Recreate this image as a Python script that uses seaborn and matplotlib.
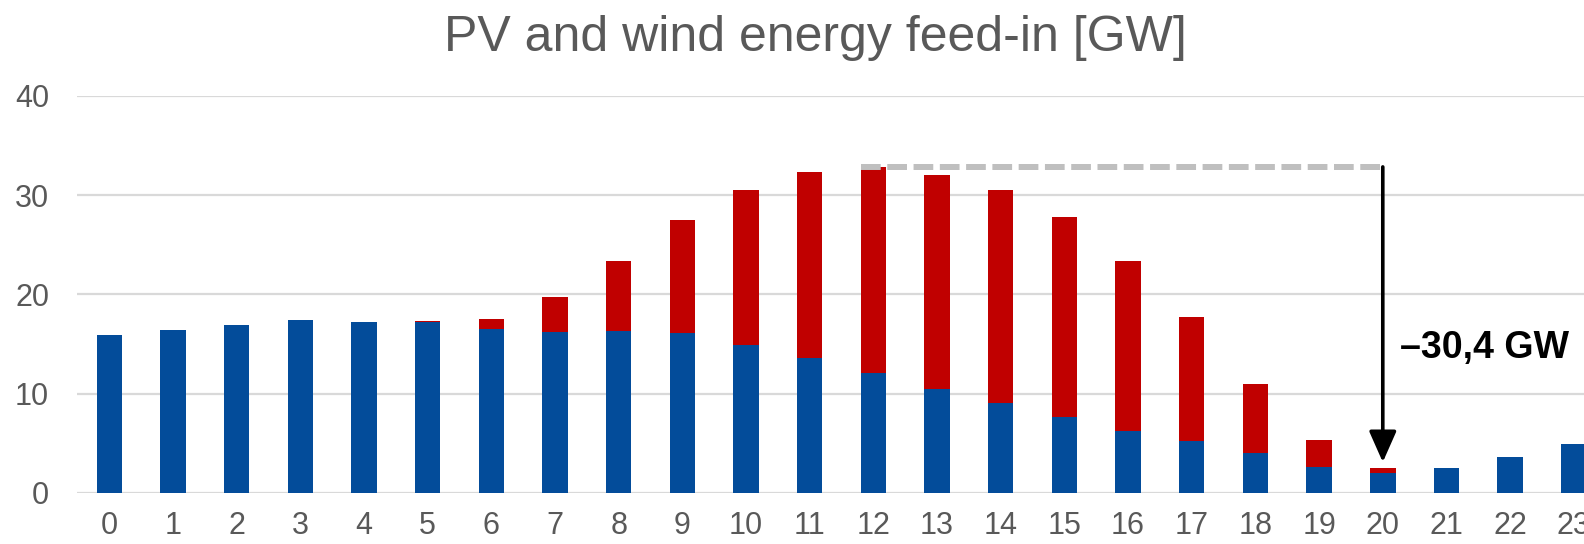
import matplotlib
matplotlib.use("Agg")
import matplotlib.pyplot as plt
import seaborn as sns
import pandas as pd

# Hourly feed-in [GW]
hours = list(range(24))
wind = [15.87, 16.44, 16.90, 17.38, 17.18, 17.24, 16.50, 16.17, 16.27, 16.13,
        14.86, 13.58, 12.03, 10.42, 9.01, 7.60, 6.25, 5.18, 3.97, 2.62,
        1.98, 2.52, 3.56, 4.91]
pv = [0.0, 0.0, 0.0, 0.0, 0.0, 0.07, 0.98, 3.59, 7.09, 11.33,
      15.69, 18.79, 20.82, 21.58, 21.54, 20.20, 17.11, 12.53, 7.02, 2.66,
      0.47, 0.0, 0.0, 0.0]
title = "PV and wind energy feed-in [GW]"
peak_hour = 12
evening_hour = 20

BLUE = "#034C9A"
RED = "#C00000"
GREY_TXT = "#595959"

df = pd.DataFrame({"hour": hours, "wind": wind, "pv": pv})
df["total"] = df["wind"] + df["pv"]

sns.set_theme(style="white")
plt.rcParams["font.family"] = ["Liberation Sans", "DejaVu Sans"]

fig = plt.figure(figsize=(15.84, 5.44), dpi=100)
ax = fig.add_axes([77 / 1584, 51.3 / 544, 1 - 77 / 1584, 396.7 / 544])

# stacked bars: total (PV on top) first, wind drawn over it
sns.barplot(data=df, x="hour", y="total", color=RED, saturation=1,
            width=0.4, errorbar=None, ax=ax, zorder=2, linewidth=0)
sns.barplot(data=df, x="hour", y="wind", color=BLUE, saturation=1,
            width=0.4, errorbar=None, ax=ax, zorder=3, linewidth=0)

ax.set_xlim(-0.507, 23.16)
ax.set_ylim(0, 40)
ax.set_yticks([0, 10, 20, 30, 40])
ax.yaxis.grid(True, color="#D9D9D9", linewidth=1.6, zorder=0)
ax.set_axisbelow(True)
for s in ax.spines.values():
    s.set_visible(False)
ax.set_xlabel("")
ax.set_ylabel("")
ax.tick_params(axis="y", length=0, pad=20, labelsize=22, labelcolor=GREY_TXT)
ax.tick_params(axis="x", length=0, pad=13, labelsize=22, labelcolor=GREY_TXT)

# drop from midday peak to evening
top_peak = df.loc[peak_hour, "total"]
top_evening = df.loc[evening_hour, "total"]
drop = top_peak - top_evening
ax.plot([peak_hour - 0.2, evening_hour], [top_peak, top_peak],
        color="#BFBFBF", linewidth=4.3, dashes=(3.3, 1.1), zorder=4,
        solid_capstyle="butt", dash_capstyle="butt")
ax.annotate("", xy=(evening_hour, top_evening), xytext=(evening_hour, top_peak),
            arrowprops=dict(arrowstyle="-|>,head_length=0.95,head_width=0.42",
                            mutation_scale=20, color="black", lw=2.6,
                            shrinkA=0, shrinkB=4.5),
            zorder=5)
label = f"\u2013{drop:.1f} GW".replace(".", ",")
ax.text(evening_hour + 0.27, 14.6, label, fontsize=27, fontweight="bold",
        color="black", ha="left", va="center", zorder=5)

fig.text(815 / 1584, 1 - 38 / 544, title, fontsize=36, color=GREY_TXT,
         ha="center", va="center")

fig.savefig("out.png", dpi=100)
